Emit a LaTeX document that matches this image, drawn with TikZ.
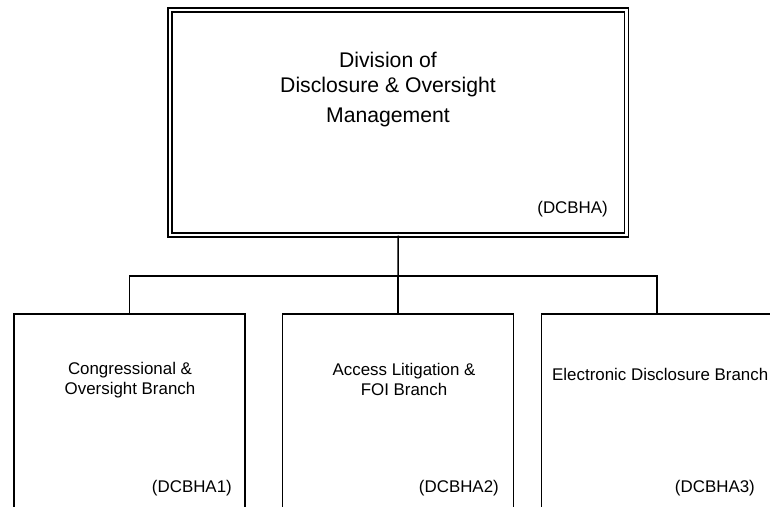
\documentclass[tikz,border=0pt]{standalone}
\usepackage{fontspec}
\setmainfont{Liberation Sans}
\begin{document}
\begin{tikzpicture}[x=1pt,y=-1pt,
  line join=miter,
  topbox/.style={draw=black, line width=1.4pt, double=white, double distance=2.4pt, minimum width=456.5pt, minimum height=225pt, inner sep=0pt},
  branchbox/.style={draw=black, line width=1.5pt, minimum width=231pt, minimum height=216pt, inner sep=0pt},
  link/.style={draw=black, line width=1.5pt},
  titletext/.style={font=\fontsize{21.2}{25}\selectfont, align=center, inner sep=0pt},
  branchtext/.style={font=\fontsize{16.9}{20}\selectfont, align=center, inner sep=0pt},
  codetext/.style={font=\fontsize{16.9}{20}\selectfont, inner sep=0pt, anchor=east}]
\useasboundingbox (0,0) rectangle (770,506);
\clip (0,0) rectangle (770,506);
% top box
\node[topbox] (top) at (398.25,122.5) {};
\node[titletext] (title) at (388,90) {Division of\\Disclosure \& Oversight\\[5pt]Management};
\node[codetext] (topcode) at (608,209) {(DCBHA)};
% branches
\node[branchbox] (b1) at (129.5,422) {};
\node[branchbox] (b2) at (398,422) {};
\node[branchbox] (b3) at (657,422) {};
\node[branchtext] (t1) at (130,380) {Congressional \&\\Oversight Branch};
\node[branchtext] (t2) at (404,379) {Access Litigation \&\\FOI Branch};
\node[branchtext, anchor=west] (t3) at (552,374) {Electronic Disclosure Branch};
\node[codetext] (c1) at (232,488) {(DCBHA1)};
\node[codetext] (c2) at (499,488) {(DCBHA2)};
\node[codetext] (c3) at (755,488) {(DCBHA3)};
% connectors
\coordinate (bus) at (398,276);
\draw[link] (top.south) -- (bus);
\draw[link] (b1.north) |- (bus) -| (b3.north);
\draw[link] (bus) -- (b2.north);
\end{tikzpicture}
\end{document}
